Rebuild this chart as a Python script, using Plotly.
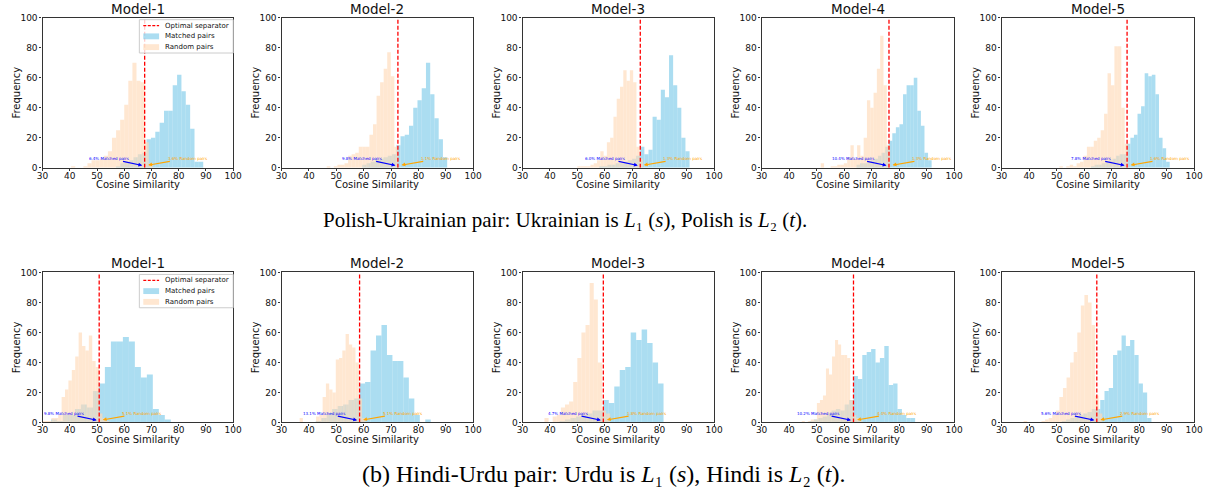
import plotly.graph_objects as go

# ---------------- data ----------------
models = ["Model-1", "Model-2", "Model-3", "Model-4", "Model-5"]
x_tick_vals = [30, 40, 50, 60, 70, 80, 90, 100]
y_tick_vals = [0, 20, 40, 60, 80, 100]
x_title = "Cosine Similarity"
y_title = "Frequency"
legend_labels = ["Optimal separator", "Matched pairs", "Random pairs"]
captions = [
    "Polish-Ukrainian pair: Ukrainian is <i>L</i>\u2081 (<i>s</i>), Polish is <i>L</i>\u2082 (<i>t</i>).",
    "(b) Hindi-Urdu pair: Urdu is <i>L</i>\u2081 (<i>s</i>), Hindi is <i>L</i>\u2082 (<i>t</i>).",
]

# Row 1: Polish-Ukrainian
pu_separator = [67.5, 72.5, 73.0, 76.3, 75.6]
pu_matched_pct = ["6.4%", "9.8%", "6.0%", "10.4%", "7.8%"]
pu_random_pct = ["3.6%", "1.1%", "1.3%", "1.3%", "1.6%"]
pu_random_bin_start = [40.5, 46.5, 50.0, 51.5, 51.0]
pu_random_bin_width = [1.5, 1.3, 1.2, 1.2, 1.25]
pu_random_m1 = [1, 0, 0, 1, 3, 5, 5, 6, 8, 11, 20, 25, 32, 42, 58, 70, 58, 57, 17, 3]
pu_random_m2 = [1, 0, 1, 2, 2, 3, 8, 9, 10, 14, 14, 14, 22, 29, 48, 57, 66, 77, 61, 14]
pu_random_m3 = [1, 1, 1, 1, 2, 3, 5, 11, 8, 17, 20, 34, 46, 54, 65, 58, 65, 57, 14, 6]
pu_random_m4 = [3, 0, 0, 1, 1, 2, 2, 3, 7, 15, 6, 15, 8, 20, 45, 40, 50, 66, 88, 55, 15]
pu_random_m5 = [1, 0, 1, 2, 1, 3, 4, 8, 14, 14, 18, 20, 25, 36, 63, 55, 81, 81, 40, 16]
pu_matched_bin_start = [57.0, 59.5, 58.0, 64.5, 62.5]
pu_matched_bin_width = [1.6, 1.55, 1.5, 1.3, 1.3]
pu_matched_m1 = [1, 3, 4, 5, 7, 9, 10, 19, 20, 24, 30, 38, 38, 55, 62, 51, 42, 26, 4, 4]
pu_matched_m2 = [2, 3, 4, 5, 6, 7, 8, 9, 15, 21, 22, 28, 40, 45, 53, 70, 49, 33, 19, 7]
pu_matched_m3 = [1, 1, 2, 2, 3, 3, 4, 5, 6, 8, 14, 9, 12, 34, 32, 52, 47, 75, 55, 40, 20, 11]
pu_matched_m4 = [2, 3, 3, 4, 5, 6, 8, 10, 14, 18, 23, 27, 29, 49, 55, 55, 60, 38, 28, 10, 5]
pu_matched_m5 = [1, 2, 2, 3, 4, 5, 6, 8, 9, 9, 16, 20, 22, 36, 41, 63, 61, 62, 49, 20, 13, 4]

# Row 2: Hindi-Urdu
hu_separator = [50.8, 58.5, 59.5, 63.4, 64.6]
hu_matched_pct = ["9.8%", "13.1%", "4.7%", "10.2%", "5.6%"]
hu_random_pct = ["5.1%", "5.1%", "1.8%", "4.4%", "2.9%"]
hu_random_bin_start = [29.5, 36.6, 38.0, 44.6, 38.0]
hu_random_bin_width = [1.25, 1.2, 1.5, 1.1, 1.3]
hu_random_m1 = [1, 1, 1, 3, 3, 5, 17, 22, 28, 35, 44, 60, 51, 48, 58, 41, 37, 6, 3, 1]
hu_random_m2 = [3, 0, 0, 0, 0, 4, 5, 17, 26, 22, 20, 42, 43, 48, 59, 52, 50, 40, 16, 3]
hu_random_m3 = [3, 0, 4, 5, 10, 12, 14, 27, 43, 60, 65, 93, 82, 40, 8, 6]
hu_random_m4 = [1, 0, 1, 2, 2, 13, 15, 18, 36, 32, 44, 55, 52, 45, 45, 43, 15, 5, 3, 1]
hu_random_m5 = [1, 0, 0, 0, 0, 1, 2, 3, 5, 8, 17, 23, 30, 40, 47, 60, 78, 85, 80, 65, 18, 6]
hu_matched_bin_start = [33.1, 42.5, 43.5, 47.4, 51.9]
hu_matched_bin_width = [2.2, 2.0, 2.0, 1.6, 1.55]
hu_matched_m1 = [2, 1, 5, 5, 9, 12, 10, 21, 26, 37, 54, 54, 57, 54, 37, 30, 32, 9, 5, 2]
hu_matched_m2 = [1, 3, 6, 9, 11, 12, 15, 16, 26, 27, 48, 58, 65, 45, 41, 41, 30, 16, 5, 0, 2]
hu_matched_m3 = [1, 2, 3, 4, 5, 6, 8, 8, 15, 13, 24, 35, 37, 60, 55, 62, 53, 40, 26]
hu_matched_m4 = [1, 2, 3, 4, 6, 8, 9, 8, 12, 15, 31, 29, 45, 47, 49, 40, 43, 51, 25, 26, 9, 5, 3, 3]
hu_matched_m5 = [1, 2, 3, 4, 5, 6, 7, 9, 9, 15, 21, 23, 45, 48, 58, 51, 55, 45, 26, 20, 3]

rows = [
    dict(sep=pu_separator, mpct=pu_matched_pct, rpct=pu_random_pct,
         rstart=pu_random_bin_start, rwidth=pu_random_bin_width,
         rcounts=[pu_random_m1, pu_random_m2, pu_random_m3, pu_random_m4, pu_random_m5],
         mstart=pu_matched_bin_start, mwidth=pu_matched_bin_width,
         mcounts=[pu_matched_m1, pu_matched_m2, pu_matched_m3, pu_matched_m4, pu_matched_m5]),
    dict(sep=hu_separator, mpct=hu_matched_pct, rpct=hu_random_pct,
         rstart=hu_random_bin_start, rwidth=hu_random_bin_width,
         rcounts=[hu_random_m1, hu_random_m2, hu_random_m3, hu_random_m4, hu_random_m5],
         mstart=hu_matched_bin_start, mwidth=hu_matched_bin_width,
         mcounts=[hu_matched_m1, hu_matched_m2, hu_matched_m3, hu_matched_m4, hu_matched_m5]),
]

# ---------------- layout / style ----------------
W, H = 1220, 495
COL_PX = [(37, 230), (279, 473), (523, 717), (765, 960), (1008, 1203)]
ROW_PX = [(13, 166), (273, 426)]
CAPTION_POS = [(566, 219), (605, 479)]
CAPTION_SIZE = [21, 24]
MATCHED_COLOR = "rgba(135,206,235,0.7)"
RANDOM_COLOR = "rgba(255,218,185,0.65)"
FONT = "DejaVu Sans"


def px_x(v):
    return v / W


def px_y(v):
    return 1 - v / H


def centers(start, width, counts):
    return [start + width * (i + 0.5) for i in range(len(counts))]


fig = go.Figure()
annotations = []
shapes = []
layout_axes = {}

for r, row in enumerate(rows):
    top, bottom = ROW_PX[r]
    for c in range(5):
        n = r * 5 + c + 1
        xs = "x" if n == 1 else f"x{n}"
        ys = "y" if n == 1 else f"y{n}"
        left, right = COL_PX[c]

        mc = row["mcounts"][c]
        rc = row["rcounts"][c]
        fig.add_trace(go.Bar(
            x=centers(row["mstart"][c], row["mwidth"][c], mc), y=mc,
            width=[row["mwidth"][c]] * len(mc),
            marker=dict(color=MATCHED_COLOR, line=dict(width=0)),
            name="Matched pairs", showlegend=False, xaxis=xs, yaxis=ys))
        fig.add_trace(go.Bar(
            x=centers(row["rstart"][c], row["rwidth"][c], rc), y=rc,
            width=[row["rwidth"][c]] * len(rc),
            marker=dict(color=RANDOM_COLOR, line=dict(width=0)),
            name="Random pairs", showlegend=False, xaxis=xs, yaxis=ys))
        s = row["sep"][c]
        fig.add_trace(go.Scatter(
            x=[s, s], y=[0, 100], mode="lines",
            line=dict(color="red", dash="4px,2px", width=1.3),
            name="Optimal separator", showlegend=False, xaxis=xs, yaxis=ys))

        axis_common = dict(showline=True, linecolor="#333", linewidth=1.3, mirror=True,
                           ticks="outside", ticklen=2, tickcolor="#333", showgrid=False,
                           zeroline=False, tickfont=dict(family=FONT, size=9, color="#111"))
        layout_axes["xaxis" if n == 1 else f"xaxis{n}"] = dict(
            domain=[px_x(left), px_x(right)], range=[30, 100], anchor=ys,
            tickvals=x_tick_vals, ticklabelstandoff=-3, **axis_common)
        layout_axes["yaxis" if n == 1 else f"yaxis{n}"] = dict(
            domain=[px_y(bottom), px_y(top)], range=[0, 100], anchor=xs,
            tickvals=y_tick_vals, **axis_common)

        # panel title and axis titles
        annotations.append(dict(text=models[c], x=px_x((left + right) / 2), y=px_y(top),
                                xref="paper", yref="paper", xanchor="center", yanchor="bottom",
                                showarrow=False, font=dict(family=FONT, size=13.5, color="#111"),
                                borderpad=0, yshift=0))
        annotations.append(dict(text=x_title, x=px_x((left + right) / 2), y=px_y(bottom + 17),
                                xref="paper", yref="paper", xanchor="center", yanchor="middle",
                                showarrow=False, font=dict(family=FONT, size=10, color="#111")))
        annotations.append(dict(text=y_title, x=px_x(left - 26), y=px_y((top + bottom) / 2),
                                xref="paper", yref="paper", xanchor="center", yanchor="middle",
                                textangle=-90, showarrow=False,
                                font=dict(family=FONT, size=10, color="#111")))

        # percentage labels with arrows pointing at the separator
        annotations.append(dict(text=f"{row['mpct'][c]} Matched pairs",
                                x=s - 0.9, y=1.4, ax=s - 13, ay=6.2,
                                xref=xs, yref=ys, axref=xs, ayref=ys, showarrow=True,
                                arrowhead=2, arrowsize=0.7, arrowwidth=1.1, arrowcolor="blue",
                                standoff=0, borderpad=0,
                                font=dict(family=FONT, size=4, color="blue")))
        annotations.append(dict(text=f"{row['rpct'][c]} Random pairs",
                                x=s + 1.3, y=1.7, ax=s + 15.6, ay=6.2,
                                xref=xs, yref=ys, axref=xs, ayref=ys, showarrow=True,
                                arrowhead=2, arrowsize=0.7, arrowwidth=1.1, arrowcolor="orange",
                                standoff=0, borderpad=0,
                                font=dict(family=FONT, size=4, color="orange")))

    # legend box in the Model-1 panel of each row
    lx0, lx1 = 135, 230
    shapes.append(dict(type="rect", xref="paper", yref="paper",
                       x0=px_x(lx0), x1=px_x(lx1), y0=px_y(top + 36), y1=px_y(top + 2),
                       fillcolor="rgba(255,255,255,0.8)", line=dict(color="#cccccc", width=1)))
    entry_y = [top + 8, top + 19, top + 30]
    shapes.append(dict(type="line", xref="paper", yref="paper",
                       x0=px_x(139), x1=px_x(155), y0=px_y(entry_y[0]), y1=px_y(entry_y[0]),
                       line=dict(color="red", dash="3px,1.5px", width=1.2)))
    shapes.append(dict(type="rect", xref="paper", yref="paper",
                       x0=px_x(139), x1=px_x(155), y0=px_y(entry_y[1] + 3), y1=px_y(entry_y[1] - 3),
                       fillcolor=MATCHED_COLOR, line=dict(width=0)))
    shapes.append(dict(type="rect", xref="paper", yref="paper",
                       x0=px_x(139), x1=px_x(155), y0=px_y(entry_y[2] + 3), y1=px_y(entry_y[2] - 3),
                       fillcolor=RANDOM_COLOR, line=dict(width=0)))
    for lbl, ey in zip(legend_labels, entry_y):
        annotations.append(dict(text=lbl, x=px_x(159), y=px_y(ey), xref="paper", yref="paper",
                                xanchor="left", yanchor="middle", showarrow=False,
                                font=dict(family=FONT, size=7, color="#111")))

    cx, cy = CAPTION_POS[r]
    annotations.append(dict(text=captions[r], x=px_x(cx), y=px_y(cy), xref="paper", yref="paper",
                            xanchor="center", yanchor="middle", showarrow=False,
                            font=dict(family="Liberation Serif", size=CAPTION_SIZE[r], color="black")))

fig.update_layout(
    width=W, height=H, margin=dict(l=0, r=0, t=0, b=0),
    paper_bgcolor="white", plot_bgcolor="white", barmode="overlay",
    showlegend=False, annotations=annotations, shapes=shapes,
    font=dict(family=FONT), **layout_axes)

fig.write_html("out.html", config={"displayModeBar": False},
               post_script="document.body.style.margin='0';document.body.style.overflow='hidden';")
